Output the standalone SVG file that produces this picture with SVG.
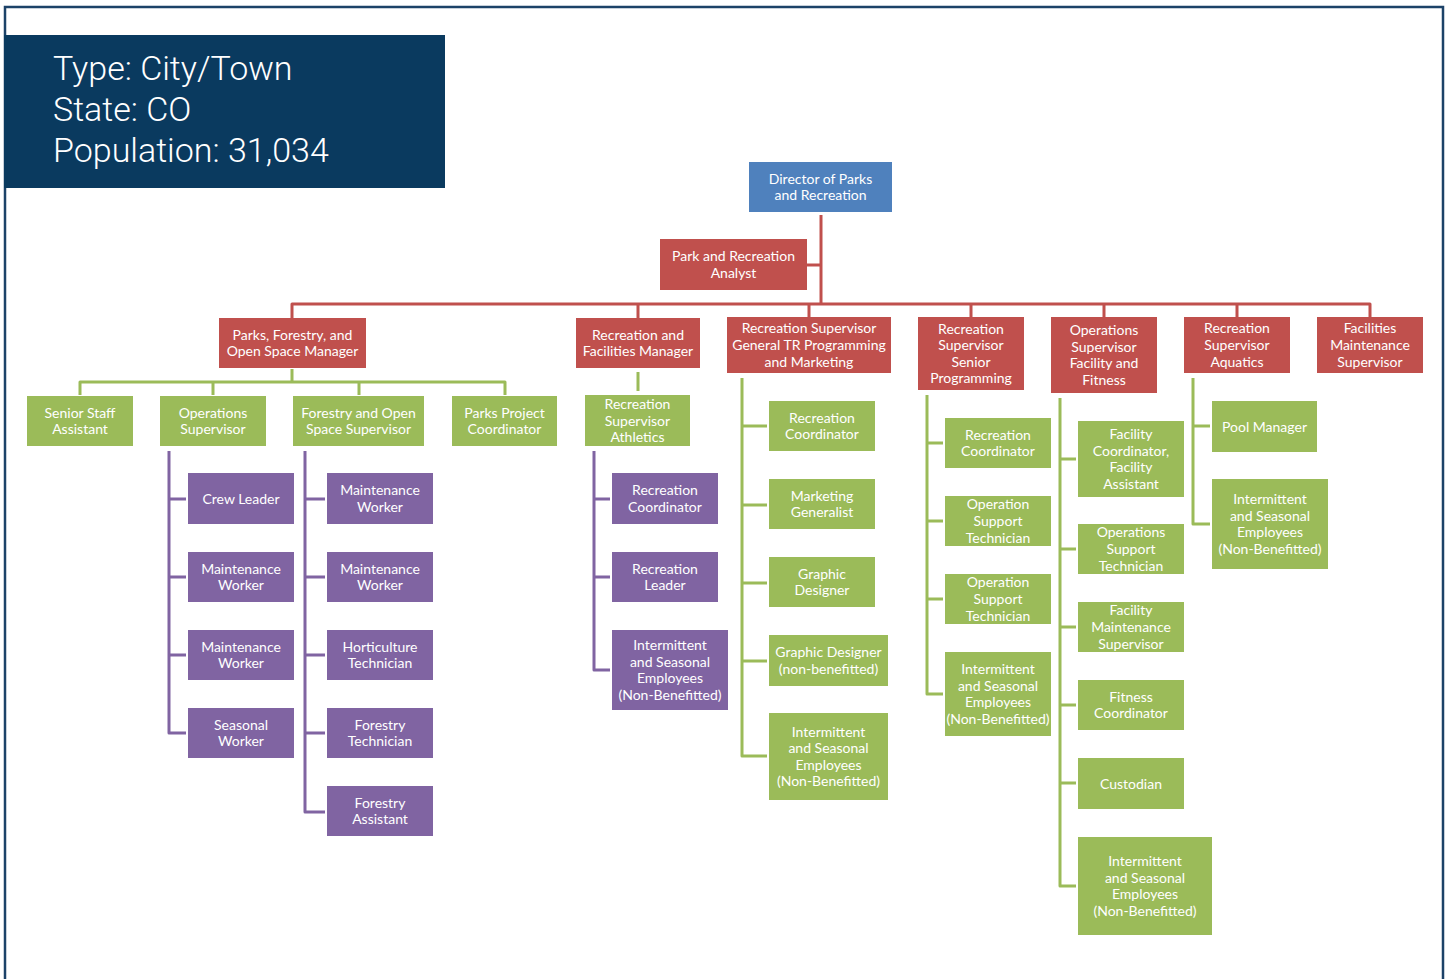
<svg xmlns="http://www.w3.org/2000/svg" width="1448" height="979" viewBox="0 0 1448 979">
  <style>
    .blue { fill: #4f81bd; }
    .red { fill: #c0504d; }
    .green { fill: #9bbb59; }
    .purple { fill: #8064a2; }
    .lbl { font-family: Lato, "Open Sans", sans-serif; font-size: 14px; fill: #ffffff; text-anchor: middle; }
    .hdr { font-family: Roboto, "Liberation Sans", sans-serif; font-weight: 300; font-size: 34px; fill: #ffffff; }
    .ln { fill: none; stroke-width: 3; stroke-linejoin: round; stroke-linecap: butt; }
    .lr { stroke: #c0504d; }
    .lg { stroke: #9bbb59; }
    .lp { stroke: #8064a2; }
  </style>

  <rect x="0" y="0" width="1448" height="979" fill="#ffffff"/>

  <!-- page frame -->
  <path d="M5,979 V7 H1443 V979" fill="none" stroke="#1c4268" stroke-width="2.5"/>

  <!-- info panel -->
  <g id="info">
    <rect x="4" y="35" width="441" height="153" fill="#0a3a5f"/>
    <text class="hdr" x="53" y="80">Type: City/Town</text>
    <text class="hdr" x="53" y="121">State: CO</text>
    <text class="hdr" x="53" y="162">Population: 31,034</text>
  </g>

  <!-- connectors -->
  <g id="connectors">
    <path class="ln lr" d="M821,215 V304"/>
    <path class="ln lr" d="M807,265 H821"/>
    <path class="ln lr" d="M292,318 V304 H1370 V318"/>
    <path class="ln lr" d="M638,304 V318 M809,304 V317 M971,304 V317 M1104,304 V317 M1237,304 V317"/>

    <path class="ln lg" d="M292,369 V382"/>
    <path class="ln lg" d="M80,395 V382 H505 V395"/>
    <path class="ln lg" d="M213,382 V395 M359,382 V395"/>
    <path class="ln lg" d="M638,372 V391"/>

    <path class="ln lp" d="M169,451 V733 H186"/>
    <path class="ln lp" d="M169,499 H186 M169,577 H186 M169,655 H186"/>
    <path class="ln lp" d="M305,451 V812 H325"/>
    <path class="ln lp" d="M305,499 H325 M305,577 H325 M305,655 H325 M305,733 H325"/>
    <path class="ln lp" d="M594,451 V670 H610"/>
    <path class="ln lp" d="M594,499 H610 M594,577 H610"/>

    <path class="ln lg" d="M742,378 V756 H767"/>
    <path class="ln lg" d="M742,426 H767 M742,505 H767 M742,583 H767 M742,661 H767"/>
    <path class="ln lg" d="M927,395 V694 H943"/>
    <path class="ln lg" d="M927,443 H943 M927,521 H943 M927,599 H943"/>
    <path class="ln lg" d="M1060,398 V886 H1076"/>
    <path class="ln lg" d="M1060,459 H1076 M1060,549 H1076 M1060,627 H1076 M1060,705 H1076 M1060,783 H1076"/>
    <path class="ln lg" d="M1193,378 V524 H1210"/>
    <path class="ln lg" d="M1193,426 H1210"/>
  </g>

  <!-- top -->
  <g id="director">
    <rect class="blue" x="749" y="162" width="143" height="50"/>
    <text class="lbl"><tspan x="820.5" y="183.7">Director of Parks</tspan><tspan x="820.5" y="200.3">and Recreation</tspan></text>
  </g>
  <g id="analyst">
    <rect class="red" x="660" y="239" width="147" height="51"/>
    <text class="lbl"><tspan x="733.5" y="261.2">Park and Recreation</tspan><tspan x="733.5" y="277.8">Analyst</tspan></text>
  </g>

  <!-- managers and supervisors -->
  <g id="parks-manager">
    <rect class="red" x="219" y="318" width="147" height="50"/>
    <text class="lbl"><tspan x="292.5" y="339.7">Parks, Forestry, and</tspan><tspan x="292.5" y="356.3">Open Space Manager</tspan></text>
  </g>
  <g id="rec-facilities-manager">
    <rect class="red" x="576" y="318" width="124" height="50"/>
    <text class="lbl"><tspan x="638" y="339.7">Recreation and</tspan><tspan x="638" y="356.3">Facilities Manager</tspan></text>
  </g>
  <g id="rec-sup-general">
    <rect class="red" x="727" y="317" width="164" height="56"/>
    <text class="lbl"><tspan x="809" y="333.4">Recreation Supervisor</tspan><tspan x="809" y="350">General TR Programming</tspan><tspan x="809" y="366.6">and Marketing</tspan></text>
  </g>
  <g id="rec-sup-senior">
    <rect class="red" x="918" y="317" width="106" height="73"/>
    <text class="lbl"><tspan x="971" y="333.6">Recreation</tspan><tspan x="971" y="350.2">Supervisor</tspan><tspan x="971" y="366.8">Senior</tspan><tspan x="971" y="383.4">Programming</tspan></text>
  </g>
  <g id="ops-sup-facility">
    <rect class="red" x="1051" y="317" width="106" height="76"/>
    <text class="lbl"><tspan x="1104" y="335.1">Operations</tspan><tspan x="1104" y="351.7">Supervisor</tspan><tspan x="1104" y="368.3">Facility and</tspan><tspan x="1104" y="384.9">Fitness</tspan></text>
  </g>
  <g id="rec-sup-aquatics">
    <rect class="red" x="1184" y="317" width="106" height="56"/>
    <text class="lbl"><tspan x="1237" y="333.4">Recreation</tspan><tspan x="1237" y="350">Supervisor</tspan><tspan x="1237" y="366.6">Aquatics</tspan></text>
  </g>
  <g id="facilities-maint-sup">
    <rect class="red" x="1317" y="317" width="106" height="56"/>
    <text class="lbl"><tspan x="1370" y="333.4">Facilities</tspan><tspan x="1370" y="350">Maintenance</tspan><tspan x="1370" y="366.6">Supervisor</tspan></text>
  </g>

  <!-- parks, forestry and open space staff -->
  <g id="senior-staff-assistant">
    <rect class="green" x="27" y="396" width="106" height="50"/>
    <text class="lbl"><tspan x="80" y="417.7">Senior Staff</tspan><tspan x="80" y="434.3">Assistant</tspan></text>
  </g>
  <g id="operations-supervisor">
    <rect class="green" x="160" y="396" width="106" height="50"/>
    <text class="lbl"><tspan x="213" y="417.7">Operations</tspan><tspan x="213" y="434.3">Supervisor</tspan></text>
  </g>
  <g id="forestry-supervisor">
    <rect class="green" x="293" y="396" width="131" height="50"/>
    <text class="lbl"><tspan x="358.5" y="417.7">Forestry and Open</tspan><tspan x="358.5" y="434.3">Space Supervisor</tspan></text>
  </g>
  <g id="parks-project-coordinator">
    <rect class="green" x="452" y="396" width="105" height="50"/>
    <text class="lbl"><tspan x="504.5" y="417.7">Parks Project</tspan><tspan x="504.5" y="434.3">Coordinator</tspan></text>
  </g>

  <g id="crew-leader">
    <rect class="purple" x="188" y="473" width="106" height="51"/>
    <text class="lbl" x="241" y="503.5">Crew Leader</text>
  </g>
  <g id="ops-maint-worker-1">
    <rect class="purple" x="188" y="552" width="106" height="50"/>
    <text class="lbl"><tspan x="241" y="573.7">Maintenance</tspan><tspan x="241" y="590.3">Worker</tspan></text>
  </g>
  <g id="ops-maint-worker-2">
    <rect class="purple" x="188" y="630" width="106" height="50"/>
    <text class="lbl"><tspan x="241" y="651.7">Maintenance</tspan><tspan x="241" y="668.3">Worker</tspan></text>
  </g>
  <g id="seasonal-worker">
    <rect class="purple" x="188" y="708" width="106" height="50"/>
    <text class="lbl"><tspan x="241" y="729.7">Seasonal</tspan><tspan x="241" y="746.3">Worker</tspan></text>
  </g>

  <g id="forestry-maint-worker-1">
    <rect class="purple" x="327" y="473" width="106" height="51"/>
    <text class="lbl"><tspan x="380" y="495.2">Maintenance</tspan><tspan x="380" y="511.8">Worker</tspan></text>
  </g>
  <g id="forestry-maint-worker-2">
    <rect class="purple" x="327" y="552" width="106" height="50"/>
    <text class="lbl"><tspan x="380" y="573.7">Maintenance</tspan><tspan x="380" y="590.3">Worker</tspan></text>
  </g>
  <g id="horticulture-technician">
    <rect class="purple" x="327" y="630" width="106" height="50"/>
    <text class="lbl"><tspan x="380" y="651.7">Horticulture</tspan><tspan x="380" y="668.3">Technician</tspan></text>
  </g>
  <g id="forestry-technician">
    <rect class="purple" x="327" y="708" width="106" height="50"/>
    <text class="lbl"><tspan x="380" y="729.7">Forestry</tspan><tspan x="380" y="746.3">Technician</tspan></text>
  </g>
  <g id="forestry-assistant">
    <rect class="purple" x="327" y="786" width="106" height="50"/>
    <text class="lbl"><tspan x="380" y="807.7">Forestry</tspan><tspan x="380" y="824.3">Assistant</tspan></text>
  </g>

  <!-- recreation and facilities -->
  <g id="rec-sup-athletics">
    <rect class="green" x="585" y="395" width="105" height="51"/>
    <text class="lbl"><tspan x="637.5" y="408.9">Recreation</tspan><tspan x="637.5" y="425.5">Supervisor</tspan><tspan x="637.5" y="442.1">Athletics</tspan></text>
  </g>
  <g id="athletics-rec-coordinator">
    <rect class="purple" x="612" y="473" width="106" height="51"/>
    <text class="lbl"><tspan x="665" y="495.2">Recreation</tspan><tspan x="665" y="511.8">Coordinator</tspan></text>
  </g>
  <g id="athletics-rec-leader">
    <rect class="purple" x="612" y="552" width="106" height="50"/>
    <text class="lbl"><tspan x="665" y="573.7">Recreation</tspan><tspan x="665" y="590.3">Leader</tspan></text>
  </g>
  <g id="athletics-seasonal">
    <rect class="purple" x="612" y="630" width="116" height="80"/>
    <text class="lbl"><tspan x="670" y="650.1">Intermittent</tspan><tspan x="670" y="666.7">and Seasonal</tspan><tspan x="670" y="683.3">Employees</tspan><tspan x="670" y="699.9">(Non-Benefitted)</tspan></text>
  </g>

  <!-- general programming and marketing -->
  <g id="general-rec-coordinator">
    <rect class="green" x="769" y="401" width="106" height="50"/>
    <text class="lbl"><tspan x="822" y="422.7">Recreation</tspan><tspan x="822" y="439.3">Coordinator</tspan></text>
  </g>
  <g id="marketing-generalist">
    <rect class="green" x="769" y="479" width="106" height="50"/>
    <text class="lbl"><tspan x="822" y="500.7">Marketing</tspan><tspan x="822" y="517.3">Generalist</tspan></text>
  </g>
  <g id="graphic-designer">
    <rect class="green" x="769" y="557" width="106" height="50"/>
    <text class="lbl"><tspan x="822" y="578.7">Graphic</tspan><tspan x="822" y="595.3">Designer</tspan></text>
  </g>
  <g id="graphic-designer-nb">
    <rect class="green" x="769" y="635" width="119" height="51"/>
    <text class="lbl"><tspan x="828.5" y="657.2">Graphic Designer</tspan><tspan x="828.5" y="673.8">(non-benefitted)</tspan></text>
  </g>
  <g id="general-seasonal">
    <rect class="green" x="769" y="713" width="119" height="87"/>
    <text class="lbl"><tspan x="828.5" y="736.6">Intermittent</tspan><tspan x="828.5" y="753.2">and Seasonal</tspan><tspan x="828.5" y="769.8">Employees</tspan><tspan x="828.5" y="786.4">(Non-Benefitted)</tspan></text>
  </g>

  <!-- senior programming -->
  <g id="senior-rec-coordinator">
    <rect class="green" x="945" y="418" width="106" height="50"/>
    <text class="lbl"><tspan x="998" y="439.7">Recreation</tspan><tspan x="998" y="456.3">Coordinator</tspan></text>
  </g>
  <g id="senior-ops-tech-1">
    <rect class="green" x="945" y="496" width="106" height="50"/>
    <text class="lbl"><tspan x="998" y="509.4">Operation</tspan><tspan x="998" y="526">Support</tspan><tspan x="998" y="542.6">Technician</tspan></text>
  </g>
  <g id="senior-ops-tech-2">
    <rect class="green" x="945" y="574" width="106" height="50"/>
    <text class="lbl"><tspan x="998" y="587.4">Operation</tspan><tspan x="998" y="604">Support</tspan><tspan x="998" y="620.6">Technician</tspan></text>
  </g>
  <g id="senior-seasonal">
    <rect class="green" x="945" y="652" width="106" height="84"/>
    <text class="lbl"><tspan x="998" y="674.1">Intermittent</tspan><tspan x="998" y="690.7">and Seasonal</tspan><tspan x="998" y="707.3">Employees</tspan><tspan x="998" y="723.9">(Non-Benefitted)</tspan></text>
  </g>

  <!-- facility and fitness -->
  <g id="facility-coordinator">
    <rect class="green" x="1078" y="421" width="106" height="76"/>
    <text class="lbl"><tspan x="1131" y="439.1">Facility</tspan><tspan x="1131" y="455.7">Coordinator,</tspan><tspan x="1131" y="472.3">Facility</tspan><tspan x="1131" y="488.9">Assistant</tspan></text>
  </g>
  <g id="facility-ops-tech">
    <rect class="green" x="1078" y="524" width="106" height="50"/>
    <text class="lbl"><tspan x="1131" y="537.4">Operations</tspan><tspan x="1131" y="554">Support</tspan><tspan x="1131" y="570.6">Technician</tspan></text>
  </g>
  <g id="facility-maint-sup">
    <rect class="green" x="1078" y="602" width="106" height="50"/>
    <text class="lbl"><tspan x="1131" y="615.4">Facility</tspan><tspan x="1131" y="632">Maintenance</tspan><tspan x="1131" y="648.6">Supervisor</tspan></text>
  </g>
  <g id="fitness-coordinator">
    <rect class="green" x="1078" y="680" width="106" height="50"/>
    <text class="lbl"><tspan x="1131" y="701.7">Fitness</tspan><tspan x="1131" y="718.3">Coordinator</tspan></text>
  </g>
  <g id="custodian">
    <rect class="green" x="1078" y="758" width="106" height="51"/>
    <text class="lbl" x="1131" y="788.5">Custodian</text>
  </g>
  <g id="facility-seasonal">
    <rect class="green" x="1078" y="837" width="134" height="98"/>
    <text class="lbl"><tspan x="1145" y="866.1">Intermittent</tspan><tspan x="1145" y="882.7">and Seasonal</tspan><tspan x="1145" y="899.3">Employees</tspan><tspan x="1145" y="915.9">(Non-Benefitted)</tspan></text>
  </g>

  <!-- aquatics -->
  <g id="pool-manager">
    <rect class="green" x="1212" y="401" width="105" height="51"/>
    <text class="lbl" x="1264.5" y="431.5">Pool Manager</text>
  </g>
  <g id="aquatics-seasonal">
    <rect class="green" x="1212" y="479" width="116" height="90"/>
    <text class="lbl"><tspan x="1270" y="504.1">Intermittent</tspan><tspan x="1270" y="520.7">and Seasonal</tspan><tspan x="1270" y="537.3">Employees</tspan><tspan x="1270" y="553.9">(Non-Benefitted)</tspan></text>
  </g>
</svg>
